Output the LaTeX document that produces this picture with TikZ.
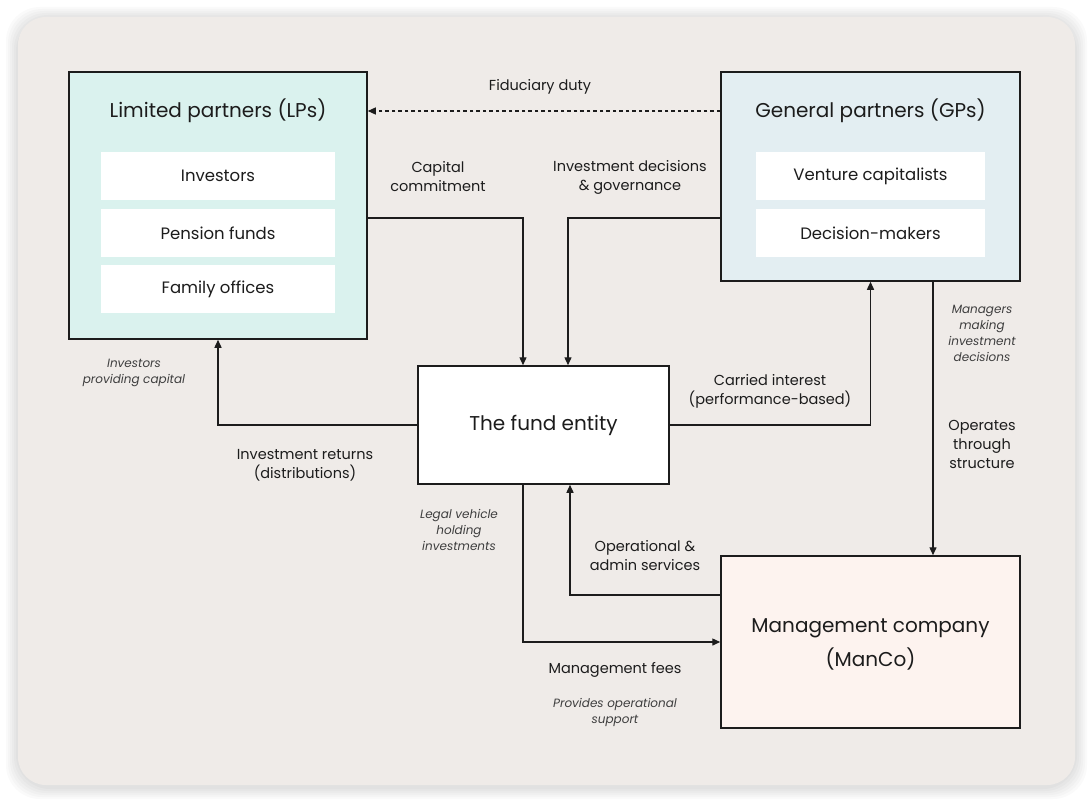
\documentclass[tikz,border=0pt]{standalone}
\usepackage{fontspec}
\setmainfont{Poppins}
\usetikzlibrary{arrows.meta}
\definecolor{bg}{HTML}{EFEBE8}
\definecolor{lpfill}{HTML}{DAF2EE}
\definecolor{gpfill}{HTML}{E3EEF2}
\definecolor{mcfill}{HTML}{FDF3EF}
\definecolor{ink}{HTML}{1C1C1C}
\begin{document}
\begin{tikzpicture}[x=1pt,y=-1pt,
  bigbox/.style={draw=ink,line width=1.5pt,minimum width=#1,anchor=center,inner sep=0pt},
  subbox/.style={fill=white,minimum height=48pt,inner sep=0pt,font=\fontsize{16.5}{20}\selectfont,text=ink},
  ttl/.style={font=\fontsize{20}{24}\selectfont,text=ink},
  lbl/.style={font=\fontsize{14.5}{19}\selectfont,text=ink,align=center,inner sep=0pt},
  note/.style={font=\itshape\fontsize{12}{16}\selectfont,text=ink!85,align=center,inner sep=0pt},
  arr/.style={draw=ink,line width=1.4pt,-{Triangle[length=8pt,width=7pt]}},
  fid/.style={arr,line width=1.1pt,dash pattern=on 3.5pt off 3pt}]
\useasboundingbox (0,0) rectangle (1091,800);
\fill[white] (0,0) rectangle (1091,800);
\foreach \d in {12,10,8,6,4,2} {\fill[black,opacity=0.018,rounded corners=34] (18-\d,17-\d+2) rectangle (1075+\d,785+\d+2);}
\fill[bg,rounded corners=28] (18,17) rectangle (1075,785);
% boxes
\node[bigbox=298pt,minimum height=267pt,fill=lpfill] (lp) at (218,205.5) {};
\node[bigbox=299pt,minimum height=209pt,fill=gpfill] (gp) at (870.5,176.5) {};
\node[bigbox=251pt,minimum height=118pt,fill=white] (fund) at (543.5,425) {};
\node[bigbox=299pt,minimum height=172pt,fill=mcfill] (mc) at (870.5,642) {};
\node[ttl] (lpt) at (218,111) {Limited partners (LPs)};
\node[ttl] (gpt) at (870.5,111) {General partners (GPs)};
\node[ttl] (fundt) at (fund) {The fund entity};
\node[ttl,align=center,font=\fontsize{20}{34}\selectfont] (mct) at (870.5,644) {Management company\\(ManCo)};
\node[subbox,minimum width=234pt] (inv) at (218,176) {Investors};
\node[subbox,minimum width=234pt] (pen) at (218,233) {Pension funds};
\node[subbox,minimum width=234pt] (fam) at (218,289) {Family offices};
\node[subbox,minimum width=229pt] (vc) at (870.5,176) {Venture capitalists};
\node[subbox,minimum width=229pt] (dm) at (870.5,233) {Decision-makers};
% connectors
\draw[fid] (gpt -| gp.west) -- (lpt -| lp.east);
\coordinate (c1) at (523,218);
\draw[arr] (lp.east |- c1) -- (c1) -- (c1 |- fund.north);
\coordinate (c2) at (568,218);
\draw[arr] (gp.west |- c2) -- (c2) -- (c2 |- fund.north);
\draw[arr] (fund.west) -| (lp.south);
\draw[arr] (fund.east) -| (gp.south);
\coordinate (c4) at (933,420);
\draw[arr] (gp.south -| c4) -- (mc.north -| c4);
\coordinate (c5) at (570,595);
\draw[arr] (mc.west |- c5) -- (c5) -- (c5 |- fund.south);
\coordinate (c6) at (523,642);
\draw[arr] (fund.south -| c6) -- (c6) -- (mc.west |- c6);
% labels
\node[lbl] (l1) at (540,87) {Fiduciary duty};
\node[lbl] (l2) at (438,177) {Capital\\commitment};
\node[lbl] (l3) at (630,177) {Investment decisions\\\& governance};
\node[lbl] (l4) at (305,465) {Investment returns\\(distributions)};
\node[lbl] (l5) at (770,391) {Carried interest\\(performance-based)};
\node[lbl] (l6) at (982,444) {Operates\\through\\structure};
\node[lbl] (l7) at (645,556) {Operational \&\\admin services};
\node[lbl] (l8) at (615,670) {Management fees};
\node[note] (n1) at (134,373) {Investors\\providing capital};
\node[note] (n2) at (982,333) {Managers\\making\\investment\\decisions};
\node[note] (n3) at (459,530) {Legal vehicle\\holding\\investments};
\node[note] (n4) at (615,712) {Provides operational\\support};
\end{tikzpicture}
\end{document}
